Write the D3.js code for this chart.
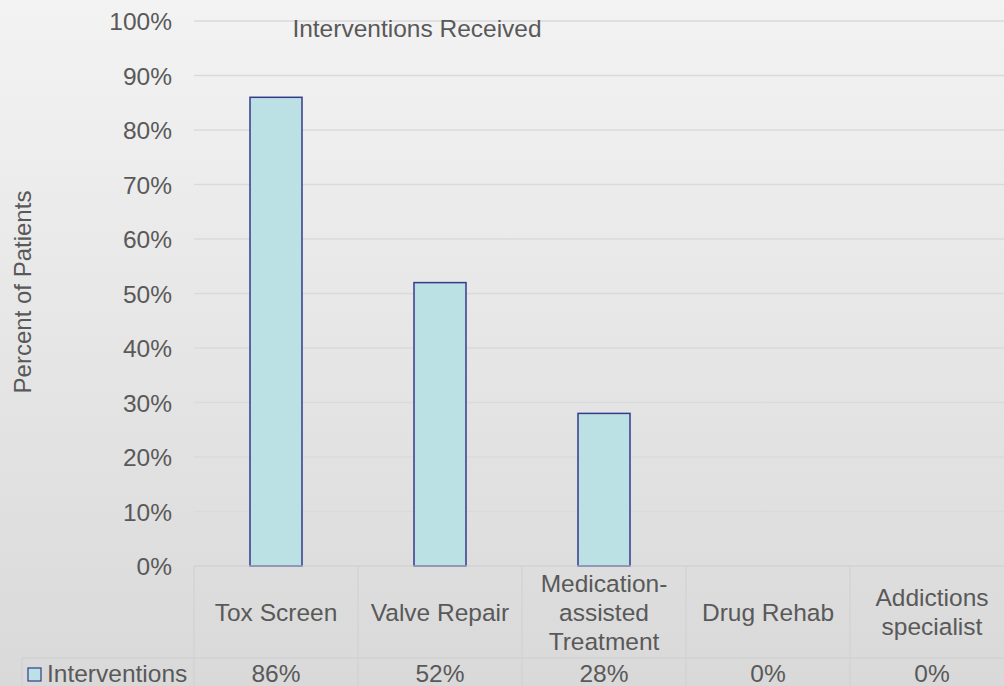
<!DOCTYPE html>
<html>
<head>
<meta charset="utf-8">
<script src="https://cdn.jsdelivr.net/npm/d3@7"></script>
<style>
  html, body { margin: 0; padding: 0; background: #eaeaea; }
  svg { display: block; font-family: "Liberation Sans", Arial, sans-serif; }
</style>
</head>
<body>
<svg id="chart" width="1004" height="686"></svg>
<script>
// data
var categories = [['Tox Screen'], ['Valve Repair'], ['Medication-', 'assisted', 'Treatment'], ['Drug Rehab'], ['Addictions', 'specialist']];
var values = [86, 52, 28, 0, 0];
var valueLabels = ['86%', '52%', '28%', '0%', '0%'];
var yTicks = [0, 10, 20, 30, 40, 50, 60, 70, 80, 90, 100];
var seriesName = 'Interventions';

var W = 1004, H = 686;
var margin = {top: 21, left: 194, bottom: 566};
var textColor = '#595959';
var fontSize = '24.5px';

var svg = d3.select('#chart');

// background gradient
var defs = svg.append('defs');
var grad = defs.append('linearGradient')
    .attr('id', 'bg')
    .attr('x1', 0).attr('y1', 0).attr('x2', 0).attr('y2', 1);
grad.append('stop').attr('offset', '0%').attr('stop-color', '#f3f3f3');
grad.append('stop').attr('offset', '100%').attr('stop-color', '#d9d9d9');
svg.append('rect').attr('width', W).attr('height', H).attr('fill', 'url(#bg)');

var x = d3.scaleBand()
    .domain(d3.range(categories.length))
    .range([margin.left, margin.left + 164 * categories.length])
    .padding(0);

var y = d3.scaleLinear()
    .domain([0, 100])
    .range([margin.bottom, margin.top]);

// gridlines
svg.append('g').selectAll('line')
    .data(yTicks)
    .enter().append('line')
    .attr('x1', margin.left)
    .attr('x2', W)
    .attr('y1', function(d) { return y(d); })
    .attr('y2', function(d) { return y(d); })
    .attr('stroke', '#dadada')
    .attr('stroke-width', 1.5);

// y axis
var yAxis = d3.axisLeft(y)
    .tickValues(yTicks)
    .tickSize(0)
    .tickPadding(22)
    .tickFormat(function(d) { return d + '%'; });

var gy = svg.append('g')
    .attr('transform', 'translate(' + margin.left + ',0)')
    .call(yAxis);
gy.select('.domain').remove();
gy.selectAll('text')
    .attr('fill', textColor)
    .style('font-size', fontSize)
    .attr('dy', '0.35em');

// bars
var barW = 52;
svg.append('g').selectAll('rect')
    .data(values)
    .enter().filter(function(d) { return d > 0; })
    .append('rect')
    .attr('x', function(d) { return x(values.indexOf(d)) + x.bandwidth() / 2 - barW / 2; })
    .attr('y', function(d) { return y(d); })
    .attr('width', barW)
    .attr('height', function(d) { return y(0) - y(d); })
    .attr('fill', '#bce1e4')
    .attr('stroke', '#343a8c')
    .attr('stroke-width', 1.5);

// title
svg.append('text')
    .attr('x', 417)
    .attr('y', 37)
    .attr('text-anchor', 'middle')
    .attr('fill', textColor)
    .style('font-size', '24.5px')
    .text('Interventions Received');

// y axis label
svg.append('text')
    .attr('transform', 'translate(31,292) rotate(-90)')
    .attr('text-anchor', 'middle')
    .attr('fill', textColor)
    .style('font-size', '24px')
    .text('Percent of Patients');

// data table grid
var tableLine = '#cfcfcf';
var rowSplit = 658;
var grid = svg.append('g').attr('stroke', tableLine).attr('stroke-width', 1);
grid.append('line').attr('x1', margin.left).attr('x2', W).attr('y1', margin.bottom).attr('y2', margin.bottom);
grid.append('line').attr('x1', 22).attr('x2', W).attr('y1', rowSplit).attr('y2', rowSplit);
grid.append('line').attr('x1', 22).attr('x2', 22).attr('y1', rowSplit).attr('y2', H);
grid.selectAll('.sep')
    .data(d3.range(categories.length))
    .enter().append('line')
    .attr('class', 'sep')
    .attr('x1', function(d) { return x(d); })
    .attr('x2', function(d) { return x(d); })
    .attr('y1', margin.bottom)
    .attr('y2', H);

// category labels
var lineH = 29;
var catMid = (margin.bottom + rowSplit) / 2;
svg.append('g').selectAll('text')
    .data(categories)
    .enter().append('text')
    .attr('text-anchor', 'middle')
    .attr('fill', textColor)
    .style('font-size', fontSize)
    .each(function(lines, i) {
        var t = d3.select(this);
        var y0 = catMid - (lines.length - 1) * lineH / 2;
        lines.forEach(function(l, j) {
            t.append('tspan')
                .attr('x', x(i) + x.bandwidth() / 2)
                .attr('y', y0 + j * lineH)
                .attr('dy', '0.35em')
                .text(l);
        });
    });

// value row
svg.append('g').selectAll('text')
    .data(valueLabels)
    .enter().append('text')
    .attr('x', function(d, i) { return x(i) + x.bandwidth() / 2; })
    .attr('y', 673)
    .attr('dy', '0.35em')
    .attr('text-anchor', 'middle')
    .attr('fill', textColor)
    .style('font-size', fontSize)
    .text(function(d) { return d; });

// legend key
svg.append('rect')
    .attr('x', 28).attr('y', 668)
    .attr('width', 13).attr('height', 13)
    .attr('fill', '#bce1e4')
    .attr('stroke', '#343a8c')
    .attr('stroke-width', 1.2);
svg.append('text')
    .attr('x', 47)
    .attr('y', 673)
    .attr('dy', '0.35em')
    .attr('fill', textColor)
    .style('font-size', fontSize)
    .text(seriesName);
</script>
</body>
</html>
